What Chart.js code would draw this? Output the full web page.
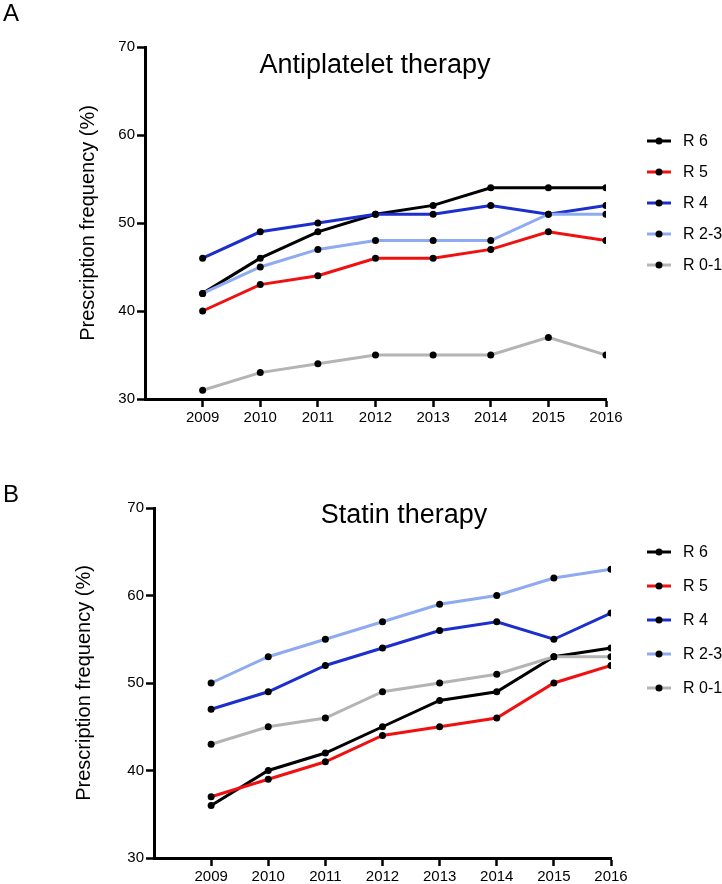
<!DOCTYPE html>
<html>
<head>
<meta charset="utf-8">
<script src="https://cdn.jsdelivr.net/npm/chart.js@4"></script>
<style>
  body { margin: 0; background: #fff; }
  .panel { position: absolute; left: 0; width: 722px; }
  #panelA { top: 0; height: 440px; }
  #panelB { top: 440px; height: 444px; }
</style>
</head>
<body>
<div class="panel" id="panelA"><canvas id="chartA"></canvas></div>
<div class="panel" id="panelB"><canvas id="chartB"></canvas></div>
<script>
const years = [2009, 2010, 2011, 2012, 2013, 2014, 2015, 2016];
const seriesNames = ['R 6', 'R 5', 'R 4', 'R 2-3', 'R 0-1'];
const seriesColors = ['#000000', '#f01010', '#1c2fcc', '#8eaaf0', '#b4b4b4'];
const yTicks = [30, 40, 50, 60, 70];

// Antiplatelet therapy
const antiR6 = [42, 46, 49, 51, 52, 54, 54, 54];
const antiR5 = [40, 43, 44, 46, 46, 47, 49, 48];
const antiR4 = [46, 49, 50, 51, 51, 52, 51, 52];
const antiR23 = [42, 45, 47, 48, 48, 48, 51, 51];
const antiR01 = [31, 33, 34, 35, 35, 35, 37, 35];

// Statin therapy
const statR6 = [36, 40, 42, 45, 48, 49, 53, 54];
const statR5 = [37, 39, 41, 44, 45, 46, 50, 52];
const statR4 = [47, 49, 52, 54, 56, 57, 55, 58];
const statR23 = [50, 53, 55, 57, 59, 60, 62, 63];
const statR01 = [43, 45, 46, 49, 50, 51, 53, 53];

const FONT = "'Liberation Sans', Arial, sans-serif";

function buildDatasets(seriesList) {
    return seriesList.map((vals, i) => ({
        label: seriesNames[i],
        data: vals.map((v, j) => ({ x: years[j], y: v })),
        borderColor: seriesColors[i],
        backgroundColor: '#000',
        pointBackgroundColor: '#000',
        pointBorderColor: '#000',
        pointRadius: 3.5,
        pointBorderWidth: 0,
        borderWidth: 3,
        tension: 0,
        fill: false,
    })).reverse();
}

// panel letter, title and legend drawn on top
const annotations = {
    id: 'annotations',
    afterDraw(chart, args, opts) {
        const ctx = chart.ctx;
        ctx.save();
        ctx.fillStyle = '#000';
        ctx.textBaseline = 'alphabetic';
        ctx.font = '24px ' + FONT;
        ctx.textAlign = 'left';
        ctx.fillText(opts.letter, 3, opts.letterY);

        ctx.font = '27px ' + FONT;
        ctx.textAlign = 'center';
        ctx.fillText(opts.title, opts.titleX, opts.titleY);

        ctx.font = '16px ' + FONT;
        ctx.textAlign = 'left';
        ctx.textBaseline = 'middle';
        seriesNames.forEach((name, i) => {
            const y = opts.legendY + i * opts.legendGap;
            ctx.strokeStyle = seriesColors[i];
            ctx.lineWidth = 3;
            ctx.beginPath();
            ctx.moveTo(647, y);
            ctx.lineTo(671, y);
            ctx.stroke();
            ctx.fillStyle = '#000';
            ctx.beginPath();
            ctx.arc(659, y, 3.5, 0, Math.PI * 2);
            ctx.fill();
            ctx.fillText(name, 683, y + 1);
        });
        ctx.restore();
    }
};

function makeChart(id, seriesList, cfg) {
    const ctx = document.getElementById(id).getContext('2d');
    return new Chart(ctx, {
        type: 'line',
        data: { datasets: buildDatasets(seriesList) },
        plugins: [annotations],
        options: {
            responsive: true,
            maintainAspectRatio: false,
            animation: false,
            layout: { padding: { left: 0, right: cfg.padRight, top: cfg.padTop, bottom: 0 } },
            plugins: {
                legend: { display: false },
                tooltip: { enabled: false },
                annotations: cfg.ann,
            },
            scales: {
                x: {
                    type: 'linear',
                    min: 2008,
                    max: 2016,
                    afterBuildTicks: (scale) => {
                        scale.ticks = years.map(v => ({ value: v }));
                    },
                    afterFit: (scale) => { scale.height = cfg.xHeight; },
                    grid: { drawOnChartArea: false, drawTicks: true, tickLength: 8, tickWidth: 2.5, tickColor: '#000' },
                    border: { display: true, color: '#000', width: 3 },
                    ticks: {
                        color: '#000',
                        padding: 2,
                        maxRotation: 0,
                        font: { family: FONT, size: 15 },
                        callback: (v) => String(v),
                    },
                },
                y: {
                    min: 30,
                    max: 70,
                    afterBuildTicks: (scale) => {
                        scale.ticks = yTicks.map(v => ({ value: v }));
                    },
                    afterFit: (scale) => { scale.width = cfg.yWidth; },
                    grid: { drawOnChartArea: false, drawTicks: true, tickLength: 8, tickWidth: 2.5, tickColor: '#000' },
                    border: { display: true, color: '#000', width: 3 },
                    ticks: {
                        color: '#000',
                        padding: 2,
                        font: { family: FONT, size: 15 },
                    },
                    title: {
                        display: true,
                        text: 'Prescription frequency (%)',
                        color: '#000',
                        font: { family: FONT, size: 20 },
                        padding: { top: cfg.yTitlePad, bottom: 0 },
                    },
                },
            },
        },
    });
}

makeChart('chartA', [antiR6, antiR5, antiR4, antiR23, antiR01], {
    padTop: 47, padRight: 116, xHeight: 41, yWidth: 145, yTitlePad: 76,
    ann: { letter: 'A', letterY: 21, title: 'Antiplatelet therapy', titleX: 375, titleY: 73,
           legendY: 141, legendGap: 31 },
});

makeChart('chartB', [statR6, statR5, statR4, statR23, statR01], {
    padTop: 68, padRight: 111, xHeight: 26, yWidth: 154, yTitlePad: 72,
    ann: { letter: 'B', letterY: 62, title: 'Statin therapy', titleX: 404, titleY: 83,
           legendY: 112, legendGap: 34 },
});
</script>
</body>
</html>
